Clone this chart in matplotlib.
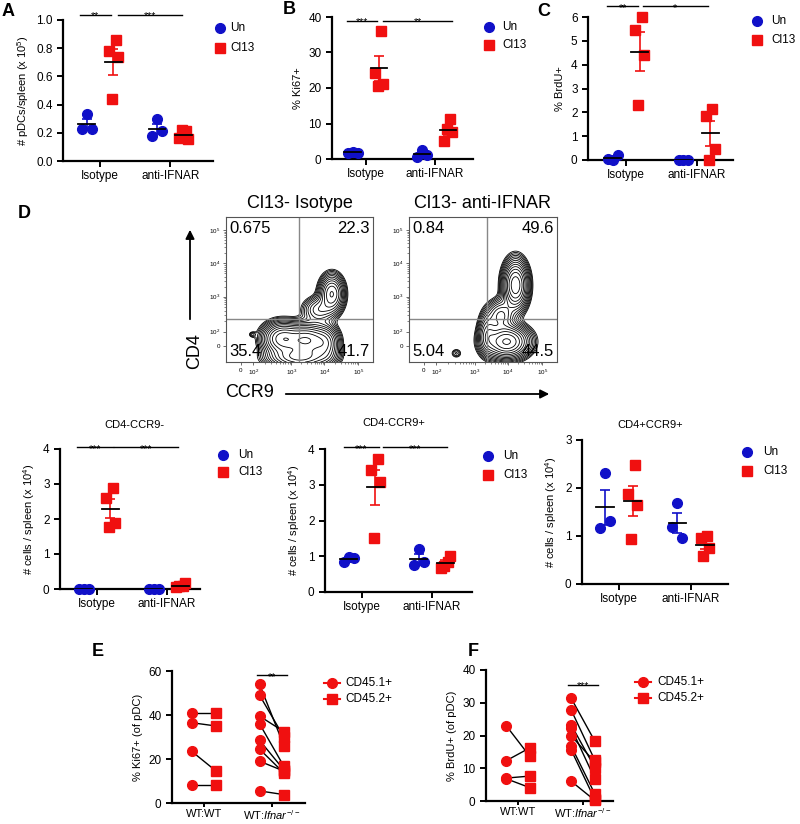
import matplotlib
matplotlib.use('Agg')
import matplotlib.pyplot as plt
import numpy as np
from matplotlib.lines import Line2D
from matplotlib.patches import FancyArrowPatch

plt.rcParams['font.family'] = ['Liberation Sans', 'DejaVu Sans']
plt.rcParams['mathtext.fontset'] = 'custom'
plt.rcParams['mathtext.rm'] = 'Liberation Sans'
plt.rcParams['mathtext.it'] = 'Liberation Sans:italic'

# Daten: A, B, C (Isotype / anti-IFNAR, Un / Cl13)
groups = ['Isotype', 'anti-IFNAR']
a_iso_un = [0.33, 0.226, 0.226]
a_iso_cl = [0.86, 0.78, 0.735, 0.44]
a_anti_un = [0.297, 0.175, 0.21]
a_anti_cl = [0.21, 0.163, 0.156, 0.222]

b_iso_un = [2.1, 1.6, 1.8]
b_iso_cl = [36.0, 24.2, 21.2, 20.7]
b_anti_un = [2.6, 0.6, 1.0]
b_anti_cl = [11.4, 5.1, 7.6, 8.5]

c_iso_un = [0.0, 0.03, 0.2]
c_iso_cl = [6.0, 5.44, 4.42, 2.29]
c_anti_un = [0.0, 0.0, 0.0]
c_anti_cl = [2.16, 1.85, 0.45, 0.0]

# D unten
d1_iso_un = [0.0, 0.0, 0.0]
d1_iso_cl = [2.9, 2.6, 1.89, 1.77]
d1_anti_un = [0.0, 0.0, 0.0]
d1_anti_cl = [0.08, 0.05, 0.17, 0.08]

d2_iso_un = [0.98, 0.84, 0.95]
d2_iso_cl = [3.72, 3.4, 3.09, 1.52]
d2_anti_un = [1.19, 0.75, 0.84]
d2_anti_cl = [0.83, 0.68, 1.02, 0.74]

d3_iso_un = [2.31, 1.16, 1.32]
d3_iso_cl = [2.47, 1.87, 1.65, 0.94]
d3_anti_un = [1.68, 1.19, 0.95]
d3_anti_cl = [0.99, 0.95, 0.76, 0.58]

# E, F gepaarte Daten
pair_groups = ['WT:WT', r'WT:$\mathit{Ifnar}^{-/-}$']
e_wt_451 = [41, 36.5, 23.5, 8]
e_wt_452 = [41, 35, 14.5, 8]
e_ko_451 = [54, 49, 39.5, 36, 28.5, 24.5, 19, 5.5]
e_ko_452 = [26, 30, 32.4, 16.6, 15, 13.6, 14.5, 3.8]

f_wt_451 = [23, 12.3, 7, 6.8]
f_wt_452 = [13.7, 16.2, 7.6, 4.1]
f_ko_451 = [31.3, 27.7, 23.2, 22.2, 19.9, 16.7, 15.5, 6.0]
f_ko_452 = [18.3, 12.5, 10.2, 6.8, 11.9, 2.2, 0.5, 0.2]

# FACS Populationen (cx, cy, sx, sy, Gewicht) in Achsenanteilen
iso_blobs = [(0.72, 0.47, 0.045, 0.07, 0.55), (0.63, 0.36, 0.06, 0.05, 0.22),
             (0.38, 0.16, 0.07, 0.06, 0.8), (0.55, 0.15, 0.08, 0.06, 0.9),
             (0.50, 0.03, 0.11, 0.04, 0.7), (0.68, 0.12, 0.05, 0.07, 0.4),
             (0.18, 0.19, 0.015, 0.012, 0.06)]
anti_blobs = [(0.72, 0.53, 0.045, 0.09, 0.9), (0.62, 0.32, 0.05, 0.06, 0.35),
              (0.66, 0.14, 0.08, 0.06, 1.0), (0.53, 0.20, 0.035, 0.08, 0.3),
              (0.32, 0.06, 0.022, 0.02, 0.07)]
iso_quad = ['0.675', '22.3', '35.4', '41.7']
anti_quad = ['0.84', '49.6', '5.04', '44.5']

blue = '#1010c8'
red = '#f01010'
W, H = 800, 824
fig = plt.figure(figsize=(8, 8.24), dpi=100)


def box(l, t, r, b):
    return fig.add_axes([l / W, 1 - b / H, (r - l) / W, (b - t) / H])


def fx(px):
    return px / W


def fy(py):
    return 1 - py / H


JIT = {3: [0.0, -0.07, 0.07], 4: [0.03, -0.06, 0.06, -0.02]}


def style(ax, xlim, ylim, yticks, yfmt, ylabel, xlabels):
    ax.set_xlim(xlim)
    ax.set_ylim(ylim)
    for s in ['top', 'right']:
        ax.spines[s].set_visible(False)
    for s in ['left', 'bottom']:
        ax.spines[s].set_linewidth(1.6)
    ax.set_yticks(yticks)
    ax.set_yticklabels([yfmt.format(v) for v in yticks], fontsize=8.5)
    ax.set_xticks([0, 1])
    ax.set_xticklabels(xlabels, fontsize=8.5)
    ax.tick_params(width=1.4, length=4)
    ax.tick_params(axis='x', pad=2.5)
    ax.set_ylabel(ylabel, fontsize=8)


def dotplot(ax, series):
    for g, (un, cl) in enumerate(series):
        for vals, off, col, mk, ms in ((un, -0.19, blue, 'o', 7), (cl, 0.19, red, 's', 6.5)):
            v = np.array(vals)
            ax.plot(g + off + np.array(JIT[len(v)]), v, mk, color=col, ms=ms, zorder=3, clip_on=False)
            m = v.mean()
            s = v.std(ddof=1) / np.sqrt(len(v))
            ax.errorbar(g + off, m, yerr=s, color=col, capsize=3.5, lw=1.2, capthick=1.2, zorder=4)
            ax.plot([g + off - 0.12, g + off + 0.12], [m, m], color='k', lw=1.3, zorder=5)


def sigbar(ax, x0, x1, y, stars):
    ax.plot([x0, x1], [y, y], color='k', lw=1, clip_on=False)
    ax.annotate(stars, ((x0 + x1) / 2, y), xytext=(0, -3.2), textcoords='offset points',
                ha='center', va='baseline', fontsize=7.5, annotation_clip=False)


def legend(xm, xt, ys, labels, markers, colors, line=False):
    for y, lab, mk, col in zip(ys, labels, markers, colors):
        if line:
            fig.add_artist(Line2D([fx(xm - 8), fx(xm + 8)], [fy(y), fy(y)], color=col, lw=1.5))
        fig.add_artist(Line2D([fx(xm)], [fy(y)], marker=mk, color=col, ms=7 if mk == 'o' else 6.5, lw=0))
        fig.text(fx(xt), fy(y), lab, fontsize=8.5, va='center', ha='left')


def label(x, y, t):
    fig.text(fx(x), fy(y), t, fontsize=13, fontweight='bold', va='center', ha='left')


def arrow(x0, y0, x1, y1):
    fig.add_artist(FancyArrowPatch((fx(x0), fy(y0)), (fx(x1), fy(y1)), transform=fig.transFigure,
                                   arrowstyle='-|>', mutation_scale=13, lw=1.3, color='k'))


# A
ax = box(63, 20, 213, 161)
dotplot(ax, [(a_iso_un, a_iso_cl), (a_anti_un, a_anti_cl)])
style(ax, (-0.53, 1.61), (0, 1.0), np.arange(0, 1.01, 0.2), '{:.1f}', r'# pDCs/spleen (x 10$^5$)', groups)
sigbar(ax, -0.29, 0.15, 1.035, '**')
sigbar(ax, 0.25, 1.17, 1.035, '***')
legend(220, 230, [28, 48], ['Un', 'Cl13'], ['o', 's'], [blue, red])
label(2, 11, 'A')

# B
ax = box(332, 17, 473, 159)
dotplot(ax, [(b_iso_un, b_iso_cl), (b_anti_un, b_anti_cl)])
style(ax, (-0.49, 1.55), (0, 40), [0, 10, 20, 30, 40], '{:d}', '% Ki67+', groups)
sigbar(ax, -0.28, 0.16, 39, '***')
sigbar(ax, 0.25, 1.25, 39, '**')
legend(489, 502, [27, 45], ['Un', 'Cl13'], ['o', 's'], [blue, red])
label(283, 10, 'B')

# C
ax = box(588, 17, 733, 160)
dotplot(ax, [(c_iso_un, c_iso_cl), (c_anti_un, c_anti_cl)])
style(ax, (-0.54, 1.51), (0, 6), list(range(7)), '{:d}', '% BrdU+', groups)
sigbar(ax, -0.27, 0.17, 6.45, '**')
sigbar(ax, 0.24, 1.15, 6.45, '*')
legend(757, 771, [21, 40], ['Un', 'Cl13'], ['o', 's'], [blue, red])
label(537, 11, 'C')

# D FACS
xt_pos = [0.10, 0.185, 0.445, 0.67, 0.90]
yt_pos = [0.11, 0.21, 0.45, 0.68, 0.91]
t_labels = ['0', r'10$^2$', r'10$^3$', r'10$^4$', r'10$^5$']
gx = np.linspace(0, 1, 240)
GX, GY = np.meshgrid(gx, gx)


def minor(pos):
    out = []
    for i in range(1, len(pos) - 1):
        for k in range(2, 10):
            out.append(pos[i] + np.log10(k) * (pos[i + 1] - pos[i]))
    return out


def facs(l, r, blobs, vgate, quad, title):
    ax = box(l, 217, r, 362)
    z = np.zeros_like(GX)
    for cx, cy, sx, sy, w in blobs:
        z += w * np.exp(-((GX - cx) ** 2 / (2 * sx ** 2) + (GY - cy) ** 2 / (2 * sy ** 2)))
    lev = z.max() * np.geomspace(0.03, 0.95, 14)
    ax.contour(GX, GY, z, levels=lev, colors='k', linewidths=0.6)
    ax.axvline(vgate, color='#888888', lw=1)
    ax.axhline(0.30, color='#888888', lw=1)
    ax.set_xlim(0, 1)
    ax.set_ylim(0, 1)
    for s in ax.spines.values():
        s.set_linewidth(0.8)
        s.set_color('#555555')
    ax.set_xticks(xt_pos)
    ax.set_xticklabels(t_labels, fontsize=4.5)
    ax.set_yticks(yt_pos)
    ax.set_yticklabels(t_labels, fontsize=4.5)
    ax.set_xticks(minor(xt_pos), minor=True)
    ax.set_yticks(minor(yt_pos), minor=True)
    ax.tick_params(length=2, width=0.6, pad=2, color='#555555')
    ax.tick_params(which='minor', length=1.2, width=0.5, color='#555555')
    kw = dict(fontsize=12)
    ax.text(0.02, 0.97, quad[0], ha='left', va='top', transform=ax.transAxes, **kw)
    ax.text(0.98, 0.97, quad[1], ha='right', va='top', transform=ax.transAxes, **kw)
    ax.text(0.02, 0.02, quad[2], ha='left', va='bottom', transform=ax.transAxes, **kw)
    ax.text(0.98, 0.02, quad[3], ha='right', va='bottom', transform=ax.transAxes, **kw)
    fig.text(fx((l + r) / 2), fy(204), title, fontsize=13, ha='center', va='center')


facs(226, 373, iso_blobs, 0.50, iso_quad, 'Cl13- Isotype')
facs(409, 557, anti_blobs, 0.53, anti_quad, 'Cl13- anti-IFNAR')
arrow(190, 322, 190, 227)
fig.text(fx(195), fy(351), 'CD4', fontsize=13, rotation=90, ha='center', va='center')
arrow(283, 394, 552, 394)
fig.text(fx(250), fy(393), 'CCR9', fontsize=13, ha='center', va='center')
label(18, 213, 'D')

# D unten
ylab4 = r'# cells / spleen (x 10$^4$)'
ax = box(60, 449, 200, 589)
dotplot(ax, [(d1_iso_un, d1_iso_cl), (d1_anti_un, d1_anti_cl)])
style(ax, (-0.53, 1.47), (0, 4), [0, 1, 2, 3, 4], '{:d}', ylab4, groups)
sigbar(ax, -0.29, 0.23, 4.05, '***')
sigbar(ax, 0.24, 1.16, 4.05, '***')
fig.text(fx(134), fy(425), 'CD4-CCR9-', fontsize=8, ha='center', va='center')
legend(223, 238, [455, 472], ['Un', 'Cl13'], ['o', 's'], [blue, red])

ax = box(325, 449, 472, 592)
dotplot(ax, [(d2_iso_un, d2_iso_cl), (d2_anti_un, d2_anti_cl)])
style(ax, (-0.53, 1.57), (0, 4), [0, 1, 2, 3, 4], '{:d}', ylab4, groups)
sigbar(ax, -0.26, 0.24, 4.05, '***')
sigbar(ax, 0.30, 1.21, 4.05, '***')
fig.text(fx(394), fy(423), 'CD4-CCR9+', fontsize=8, ha='center', va='center')
legend(488, 503, [456, 475], ['Un', 'Cl13'], ['o', 's'], [blue, red])

ax = box(582, 440, 728, 584)
dotplot(ax, [(d3_iso_un, d3_iso_cl), (d3_anti_un, d3_anti_cl)])
style(ax, (-0.51, 1.51), (0, 3), [0, 1, 2, 3], '{:d}', ylab4, groups)
fig.text(fx(650), fy(425), 'CD4+CCR9+', fontsize=8, ha='center', va='center')
legend(747, 763, [452, 471], ['Un', 'Cl13'], ['o', 's'], [blue, red])


# E, F
def paired(ax, sets):
    for g, (c1, c2) in enumerate(sets):
        for y1, y2 in zip(c1, c2):
            ax.plot([g - 0.18, g + 0.18], [y1, y2], color='k', lw=1, zorder=2)
        ax.plot(np.full(len(c1), g - 0.18), c1, 'o', color=red, ms=7, zorder=3, clip_on=False)
        ax.plot(np.full(len(c2), g + 0.18), c2, 's', color=red, ms=6.5, zorder=3, clip_on=False)


ax = box(172, 671, 305, 803)
paired(ax, [(e_wt_451, e_wt_452), (e_ko_451, e_ko_452)])
style(ax, (-0.47, 1.49), (0, 60), [0, 20, 40, 60], '{:d}', '% Ki67+ (of pDC)', pair_groups)
ax.tick_params(axis='x', pad=1, length=3, labelsize=8)
sigbar(ax, 0.78, 1.22, 58, '**')
legend(332, 345, [683, 699], ['CD45.1+', 'CD45.2+'], ['o', 's'], [red, red], line=True)
label(92, 651, 'E')

ax = box(486, 670, 613, 801)
paired(ax, [(f_wt_451, f_wt_452), (f_ko_451, f_ko_452)])
style(ax, (-0.49, 1.46), (0, 40), [0, 10, 20, 30, 40], '{:d}', '% BrdU+ (of pDC)', pair_groups)
ax.tick_params(axis='x', pad=1, length=3, labelsize=8)
sigbar(ax, 0.77, 1.23, 35.5, '***')
legend(643, 657, [682, 698], ['CD45.1+', 'CD45.2+'], ['o', 's'], [red, red], line=True)
label(468, 651, 'F')

fig.savefig('out.png', dpi=100)
